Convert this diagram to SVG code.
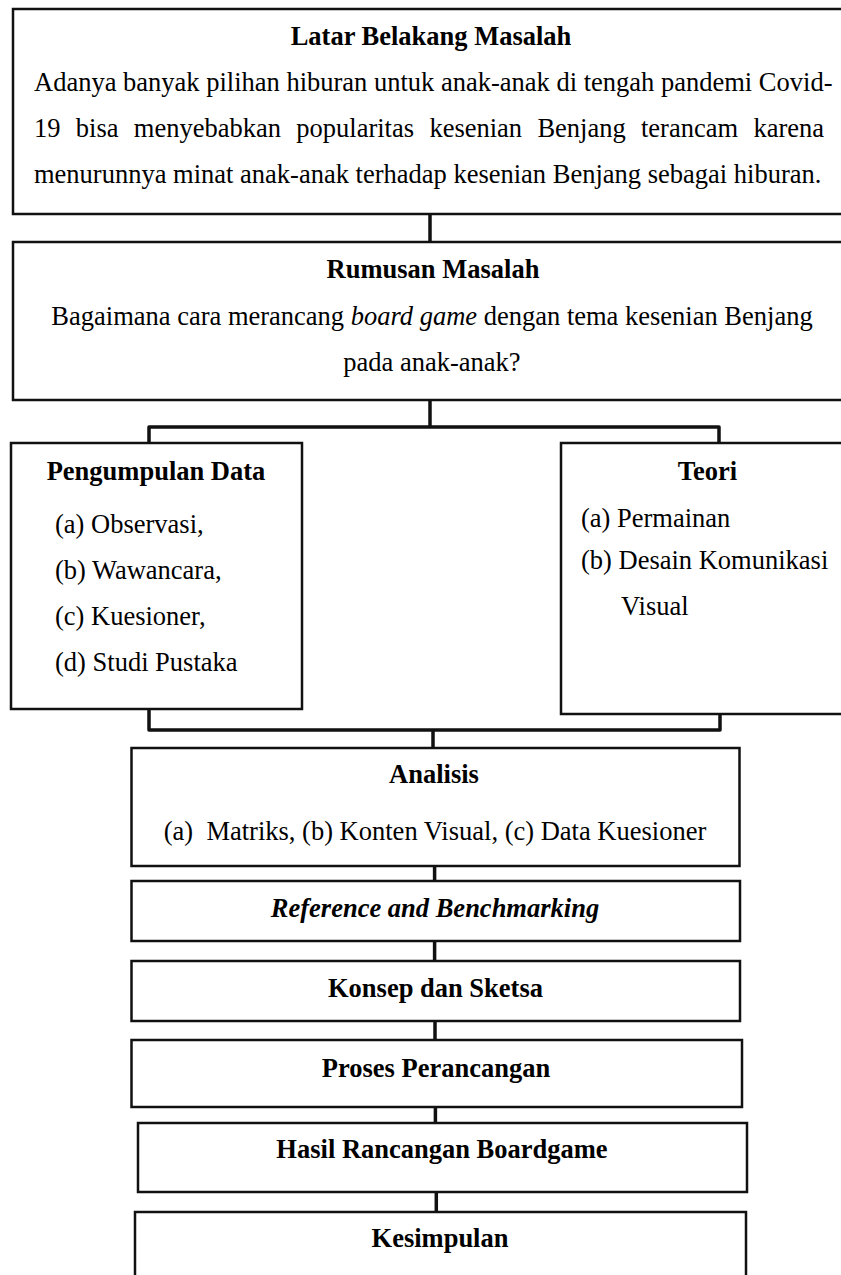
<svg xmlns="http://www.w3.org/2000/svg" width="841" height="1275" viewBox="0 0 841 1275">
<style>
.box{fill:#fff;stroke:#111;stroke-width:2.5}
.con{fill:none;stroke:#111;stroke-width:3.5;stroke-linejoin:round;stroke-linecap:butt}
text{font-family:"Liberation Serif","Times New Roman",serif;font-size:26.5px;fill:#000}
.t{font-weight:bold;text-anchor:middle}
.c{text-anchor:middle}
.i{font-style:italic}
</style>
<rect width="841" height="1275" fill="#fff"/>
<g id="connectors">
<line class="con" x1="430" y1="214" x2="430" y2="242"/>
<line class="con" x1="430" y1="400" x2="430" y2="427"/>
<path class="con" d="M149,443 V427 H719 V443"/>
<path class="con" d="M149,710 V730 H720 V714"/>
<line class="con" x1="433" y1="730" x2="433" y2="748"/>
<line class="con" x1="434.6" y1="866" x2="434.6" y2="881"/>
<line class="con" x1="434.6" y1="941" x2="434.6" y2="961"/>
<line class="con" x1="435" y1="1021" x2="435" y2="1040"/>
<line class="con" x1="435.4" y1="1107" x2="435.4" y2="1123"/>
<line class="con" x1="436.3" y1="1192" x2="436.3" y2="1212"/>
</g>
<g id="latar">
<rect class="box" x="13" y="9" width="840" height="205"/>
<text class="t" x="431" y="45">Latar Belakang Masalah</text>
<text x="34" y="91">Adanya banyak pilihan hiburan untuk anak-anak di tengah pandemi Covid-</text>
<text y="137"><tspan x="34">19</tspan><tspan x="75.8">bisa</tspan><tspan x="133.8">menyebabkan</tspan><tspan x="296.3">popularitas</tspan><tspan x="429.4">kesenian</tspan><tspan x="537.4">Benjang</tspan><tspan x="641">terancam</tspan><tspan x="753.4">karena</tspan></text>
<text x="34" y="183">menurunnya minat anak-anak terhadap kesenian Benjang sebagai hiburan.</text>
</g>
<g id="rumusan">
<rect class="box" x="13" y="242" width="840" height="158"/>
<text class="t" x="433" y="278">Rumusan Masalah</text>
<text class="c" x="432" y="325">Bagaimana cara merancang <tspan class="i">board game</tspan> dengan tema kesenian Benjang</text>
<text class="c" x="432" y="371">pada anak-anak?</text>
</g>
<g id="pengumpulan">
<rect class="box" x="11" y="443" width="291" height="266"/>
<text class="t" x="156" y="480">Pengumpulan Data</text>
<text x="55" y="533">(a) Observasi,</text>
<text x="55" y="579">(b) Wawancara,</text>
<text x="55" y="625">(c) Kuesioner,</text>
<text x="55" y="671">(d) Studi Pustaka</text>
</g>
<g id="teori">
<rect class="box" x="561" y="443" width="294" height="271"/>
<text class="t" x="707.5" y="480">Teori</text>
<text x="581" y="527">(a) Permainan</text>
<text x="581" y="569">(b) Desain Komunikasi</text>
<text x="621" y="615">Visual</text>
</g>
<g id="analisis">
<rect class="box" x="131.5" y="748" width="608" height="118"/>
<text class="t" x="434" y="783">Analisis</text>
<text class="c" x="435" y="840" xml:space="preserve">(a)  Matriks, (b) Konten Visual, (c) Data Kuesioner</text>
</g>
<g id="reference">
<rect class="box" x="131.5" y="881" width="608.5" height="60"/>
<text class="t i" x="435" y="917">Reference and Benchmarking</text>
</g>
<g id="konsep">
<rect class="box" x="131.5" y="961" width="608.5" height="60"/>
<text class="t" x="435.5" y="997">Konsep dan Sketsa</text>
</g>
<g id="proses">
<rect class="box" x="131.5" y="1040" width="610.5" height="67"/>
<text class="t" x="436" y="1077">Proses Perancangan</text>
</g>
<g id="hasil">
<rect class="box" x="138" y="1123" width="609" height="69"/>
<text class="t" x="442" y="1158">Hasil Rancangan Boardgame</text>
</g>
<g id="kesimpulan">
<rect class="box" x="135" y="1212" width="611" height="80"/>
<text class="t" x="440" y="1247">Kesimpulan</text>
</g>
</svg>
